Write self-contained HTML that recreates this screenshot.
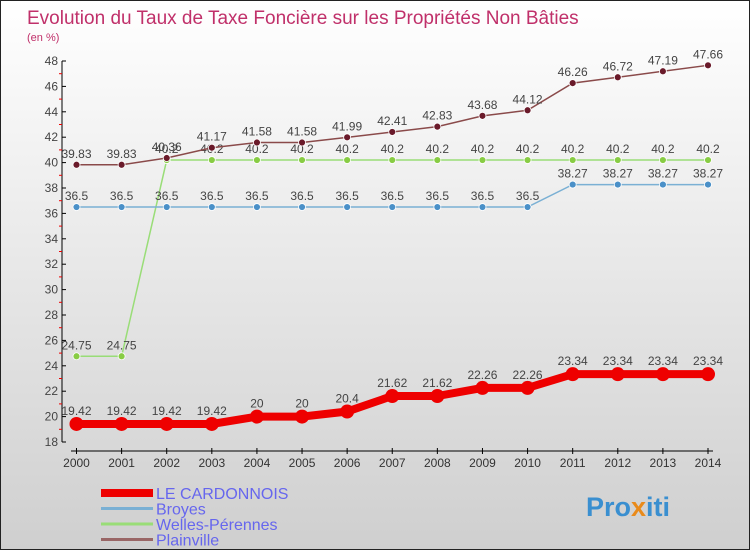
<!DOCTYPE html>
<html><head><meta charset="utf-8"><style>
body{margin:0}
#c{width:750px;height:550px;position:relative;overflow:hidden;background:linear-gradient(#fff,#cfcfcf);box-sizing:border-box;border:1px solid #222;font-family:"Liberation Sans",sans-serif}
</style></head><body>
<div id="c">
<svg width="750" height="550" style="position:absolute;left:0;top:0" id="svg" font-family="Liberation Sans, sans-serif">
<text x="26" y="23" font-size="19" fill="#c0306a">Evolution du Taux de Taxe Foncière sur les Propriétés Non Bâties</text>
<text x="26" y="40" font-size="11" fill="#c0306a">(en %)</text>
<text x="585" y="515" font-size="27" font-weight="bold" fill="#3a8fd0">Pro<tspan fill="#e98a1a">x</tspan>iti</text>
</svg>
</div>
<script>
const years=[2000,2001,2002,2003,2004,2005,2006,2007,2008,2009,2010,2011,2012,2013,2014];
const cardonnois=[19.42,19.42,19.42,19.42,20,20,20.4,21.62,21.62,22.26,22.26,23.34,23.34,23.34,23.34];
const broyes=[36.5,36.5,36.5,36.5,36.5,36.5,36.5,36.5,36.5,36.5,36.5,38.27,38.27,38.27,38.27];
const welles=[24.75,24.75,40.2,40.2,40.2,40.2,40.2,40.2,40.2,40.2,40.2,40.2,40.2,40.2,40.2];
const plainville=[39.83,39.83,40.36,41.17,41.58,41.58,41.99,42.41,42.83,43.68,44.12,46.26,46.72,47.19,47.66];
const yTicks=[18,20,22,24,26,28,30,32,34,36,38,40,42,44,46,48];
const seriesNames=["LE CARDONNOIS","Broyes","Welles-Pérennes","Plainville"];
const NS="http://www.w3.org/2000/svg",svg=document.getElementById('svg');
const x=i=>75.5+i*(707-75.5)/(years.length-1);
const y=v=>441-(v-18)*(441-60)/30;
function mk(t,a,p){const e=document.createElementNS(NS,t);for(const k in a)e.setAttribute(k,a[k]);(p||svg).appendChild(e);return e;}
let ax=mk('line',{x1:61,y1:60,x2:61,y2:441,stroke:'#000'});


let bx=mk('line',{x1:70,y1:450,x2:712,y2:450,stroke:'#000'});


yTicks.forEach(v=>{
 mk('line',{x1:61,y1:y(v),x2:65,y2:y(v),stroke:'#000'});
 if(v<48) mk('line',{x1:58,y1:y(v+1),x2:61,y2:y(v+1),stroke:'#e00'});
 const t=mk('text',{x:57,y:y(v)+4,'font-size':12,'text-anchor':'end',fill:'#444'});t.textContent=v;
 
 
});
years.forEach((yr,i)=>{
 mk('line',{x1:x(i),y1:447,x2:x(i),y2:453,stroke:'#000'});
 const t=mk('text',{x:x(i),y:466,'font-size':12,'text-anchor':'middle',fill:'#333'});t.textContent=yr;
 
 
});
function series(data,color,dot,w,r,name){
 const g=mk('g',{});
 
 
 mk('polyline',{points:data.map((v,i)=>x(i)+','+y(v)).join(' '),fill:'none',stroke:color,'stroke-width':w},g);
 data.forEach((v,i)=>{
  const c=mk('circle',{cx:x(i),cy:y(v),r:r,fill:dot,stroke:'#fff','stroke-width':r>5?0:0.8},g);
  
  
  const t=mk('text',{x:x(i),y:y(v)-(r>5?9:7),'font-size':12,'text-anchor':'middle',fill:'#444'},g);t.textContent=v;
 });
}
series(welles,'#99dd77','#88cc44',1.5,3.5,'series-welles-perennes');
series(broyes,'#7ab0d4','#4a90c8',1.5,3.5,'series-broyes');
series(plainville,'#8a4a4a','#6a1a2a',1.5,3.5,'series-plainville');
series(cardonnois,'#ee0000','#ee0000',8,7,'series-le-cardonnois');
const lc=['#ee0000','#7ab0d4','#99dd77','#996666'],lw=[8,3,3,3];
seriesNames.forEach((n,i)=>{
 const yy=492+i*15.5;
 const l=mk('line',{x1:100,y1:yy,x2:152,y2:yy,stroke:lc[i],'stroke-width':lw[i]});
 
 
 const t=mk('text',{x:155,y:yy+6,'font-size':16,fill:'#6666ee'});t.textContent=n;
 
 
});
</script>
</body></html>
